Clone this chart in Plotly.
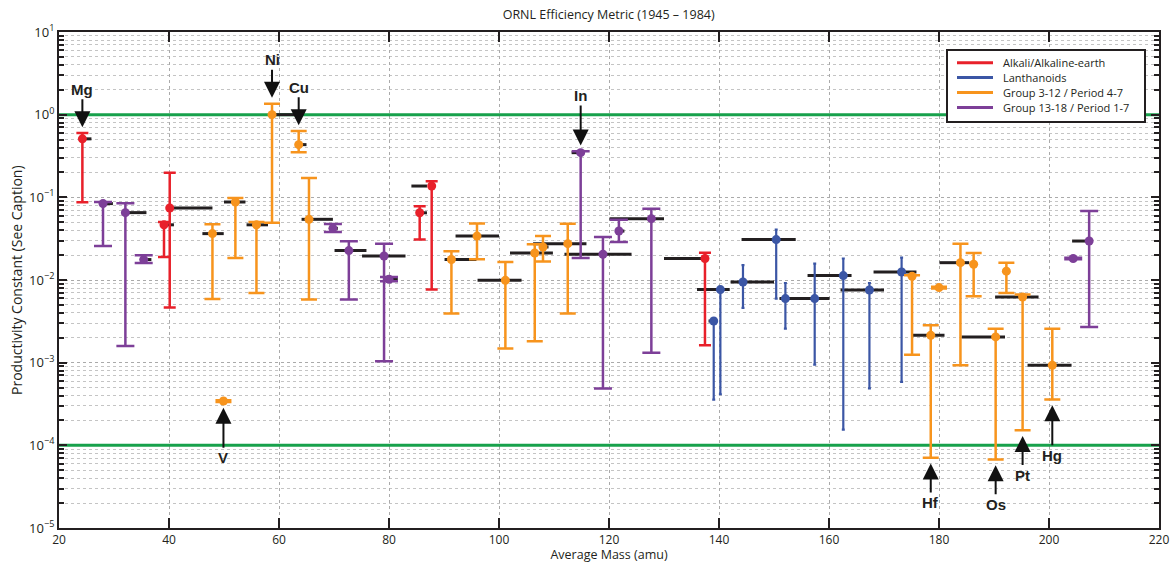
import math
import plotly.graph_objects as go

# ---------------- data ----------------
red_names = ["Mg", "K", "Ca", "Rb", "Sr", "Ba"]
red_x = [24.25, 39.09, 40.13, 85.58, 87.76, 137.45]
red_y = [0.51, 0.0465, 0.0742, 0.065, 0.137, 0.0182]
red_lo = [0.087, 0.019, 0.00464, 0.031, 0.00766, 0.00162]
red_hi = [0.60, 0.0503, 0.199, 0.0778, 0.157, 0.0214]

blue_names = ["La", "Ce", "Nd", "Sm", "Eu", "Gd", "Dy", "Er", "Yb"]
blue_x = [139.04, 140.25, 144.36, 150.4, 152.07, 157.4, 162.6, 167.35, 173.2]
blue_y = [0.00319, 0.00766, 0.00946, 0.0308, 0.00596, 0.00596, 0.0113, 0.00757, 0.0125]
blue_lo = [0.000358, 0.000415, 0.00459, 0.00596, 0.00258, 0.000948, 0.000155, 0.00049, 0.000585]
blue_hi = [0.0033, 0.0079, 0.0151, 0.0407, 0.0092, 0.0158, 0.0182, 0.0092, 0.0187]

orange_names = ["Ti", "V", "Cr", "Fe", "Ni", "Cu", "Zn", "Zr", "Mo", "Ru", "Pd", "Ag", "Cd",
                "Lu", "Hf", "Ta", "W", "Re", "Os", "Ir", "Pt", "Hg"]
orange_x = [47.9, 49.9, 52.07, 55.9, 58.73, 63.58, 65.45, 91.35, 96.0, 101.16, 106.5, 108.0, 112.5,
            175.1, 178.5, 180.0, 183.9, 186.3, 190.3, 192.25, 195.2, 200.6]
orange_y = [0.0364, 0.000344, 0.0878, 0.0465, 1.0, 0.434, 0.0542, 0.0177, 0.034, 0.0099, 0.0212, 0.0251, 0.0275,
            0.0111, 0.00214, 0.0081, 0.0162, 0.0155, 0.00205, 0.0128, 0.00623, 0.00093]
orange_lo = [0.00589, 0.000335, 0.01845, 0.00697, 0.0494, 0.35, 0.0058, 0.00392, 0.0178, 0.00148, 0.00182, 0.0167, 0.00392,
             0.00125, 7.1e-5, 0.0079, 0.00093, 0.00635, 6.73e-5, 0.00697, 0.000152, 0.000358]
orange_hi = [0.0472, 0.000352, 0.098, 0.0503, 1.36, 0.634, 0.171, 0.0222, 0.0481, 0.0165, 0.027, 0.034, 0.048,
             0.0114, 0.00283, 0.0083, 0.0275, 0.0212, 0.00258, 0.0162, 0.00666, 0.00258]

purple_names = ["Si", "S", "Cl", "Ga", "Ge", "Se", "Br", "In", "Sn", "Sb", "Te", "Tl", "Pb"]
purple_x = [28.0, 32.07, 35.4, 69.8, 72.7, 79.1, 80.0, 114.85, 118.9, 121.8, 127.7, 204.4, 207.3]
purple_y = [0.084, 0.0653, 0.01766, 0.0422, 0.0227, 0.0195, 0.0102, 0.347, 0.0205, 0.0391, 0.0552, 0.0182, 0.0296]
purple_lo = [0.0258, 0.00159, 0.0161, 0.038, 0.0058, 0.00104, 0.00965, 0.01845, 0.000486, 0.0288, 0.00132, 0.0178, 0.0027]
purple_hi = [0.088, 0.0846, 0.0199, 0.0475, 0.0294, 0.0275, 0.01087, 0.36, 0.0331, 0.0537, 0.073, 0.0186, 0.0683]

# black horizontal segments (start mass, end mass, value)
dash_x0 = [24.25, 28.0, 32.07, 35.4, 39.1, 40.1, 46.07, 50.0, 54.1, 58.7, 63.58, 64.1, 69.8, 70.1, 75.1, 80.0,
           85.0, 84.07, 90.1, 92.1, 96.1, 102.0, 108.0, 106.2, 113.2, 111.9, 121.8, 120.1, 130.0, 138.1,
           136.0, 142.1, 144.1, 151.0, 156.1, 162.1, 168.1, 175.1, 180.1, 185.6, 184.1, 191.6, 190.2,
           196.1, 204.2]
dash_x1 = [25.9, 29.8, 35.9, 36.8, 40.9, 47.9, 49.95, 53.9, 58.0, 63.8, 65.0, 69.8, 70.7, 75.9, 83.0, 81.6,
           86.9, 86.9, 95.9, 100.0, 104.1, 109.8, 109.0, 115.9, 114.85, 124.1, 122.8, 130.0, 137.1, 139.04,
           141.95, 150.0, 153.95, 160.1, 164.1, 170.0, 175.9, 181.0, 185.5, 186.3, 192.0, 192.25, 198.1,
           204.1, 207.3]
dash_y = [0.51, 0.084, 0.0653, 0.01766, 0.0465, 0.0742, 0.0364, 0.0878, 0.0465, 1.0, 0.434, 0.0542, 0.0422,
          0.0227, 0.0195, 0.0102, 0.065, 0.137, 0.0177, 0.034, 0.0099, 0.0212, 0.0251, 0.0275, 0.347, 0.0205,
          0.0391, 0.0552, 0.0182, 0.00319, 0.00766, 0.00946, 0.0308, 0.00596, 0.0113, 0.00757, 0.0125,
          0.00214, 0.0162, 0.0155, 0.00205, 0.0128, 0.00623, 0.00093, 0.0296]

thresholds = [1.0, 1e-4]

series_labels = ["Alkali/Alkaline-earth", "Lanthanoids", "Group 3-12 / Period 4-7", "Group 13-18 / Period 1-7"]
series_colors = ["#e8202a", "#3b56a5", "#f7941d", "#7d3f98"]

arrow_down = ["Mg", "Ni", "Cu", "In"]
arrow_up = ["V", "Hf", "Os", "Pt", "Hg"]

# ---------------- figure ----------------
W, H = 1175, 563
ML, MR, MT, MB = 59, 16, 32, 35
PW, PH = W - ML - MR, H - MT - MB


def px_to_paper(px, py):
    return (px - ML) / PW, (H - MB - py) / PH


fig = go.Figure()

for t in thresholds:
    fig.add_trace(go.Scatter(x=[20, 220], y=[t, t], mode="lines",
                             line=dict(color="#17a14b", width=3),
                             showlegend=False, hoverinfo="skip"))

dx, dy = [], []
for a, b, v in zip(dash_x0, dash_x1, dash_y):
    dx += [a, b, None]
    dy += [v, v, None]
fig.add_trace(go.Scatter(x=dx, y=dy, mode="lines", line=dict(color="#231f20", width=3),
                         showlegend=False, hoverinfo="skip"))

groups = [
    (red_x, red_y, red_lo, red_hi, 6, 2.5),
    (blue_x, blue_y, blue_lo, blue_hi, 1.5, 2.2),
    (orange_x, orange_y, orange_lo, orange_hi, 8, 2.5),
    (purple_x, purple_y, purple_lo, purple_hi, 9, 2.5),
]
for (gx, gy, glo, ghi, capw, th), col, lab in zip(groups, series_colors, series_labels):
    fig.add_trace(go.Scatter(
        x=gx, y=gy, mode="markers", name=lab,
        marker=dict(color=col, size=9),
        error_y=dict(type="data", symmetric=False,
                     array=[h - v for h, v in zip(ghi, gy)],
                     arrayminus=[v - l for v, l in zip(gy, glo)],
                     color=col, thickness=th, width=capw),
        showlegend=False))

lookup = {}
for names, xs, his, los in [(red_names, red_x, red_hi, red_lo), (blue_names, blue_x, blue_hi, blue_lo),
                            (orange_names, orange_x, orange_hi, orange_lo),
                            (purple_names, purple_x, purple_hi, purple_lo)]:
    for n, xv, h, l in zip(names, xs, his, los):
        lookup[n] = (xv, h, l)

label_font = dict(family="Liberation Sans, Arial", size=15, color="#231f20")
annots = []
for n in arrow_down:
    xv, h, l = lookup[n]
    annots.append(dict(x=xv, y=math.log10(h) + 0.07, xref="x", yref="y",
                       text="<b>%s</b>" % n, showarrow=True, arrowhead=2, arrowsize=1.6,
                       arrowwidth=2, arrowcolor="#111111", ax=0, ay=-38 if n != "In" else -50,
                       font=label_font))
for n in arrow_up:
    xv, h, l = lookup[n]
    annots.append(dict(x=xv, y=math.log10(l) - 0.07, xref="x", yref="y",
                       text="<b>%s</b>" % n, showarrow=True, arrowhead=2, arrowsize=1.6,
                       arrowwidth=2, arrowcolor="#111111", ax=0,
                       ay=50 if n in ("V", "Hg") else 39,
                       font=label_font))

annots.append(dict(text="Productivity Constant (See Caption)", xref="paper", yref="paper",
                   x=px_to_paper(16, 0)[0], y=0.5, textangle=-90, showarrow=False, xanchor="center",
                   font=dict(family="Open Sans", size=14, color="#231f20")))

# manual legend (box, line samples, labels)
shapes = []
bx0, by0 = px_to_paper(947, 50)
bx1, by1 = px_to_paper(1145, 122)
shapes.append(dict(type="rect", xref="paper", yref="paper", x0=bx0, y0=by1, x1=bx1, y1=by0,
                   line=dict(color="#231f20", width=2), fillcolor="white", layer="above"))
for i, (lab, col) in enumerate(zip(series_labels, series_colors)):
    ry = 62.7 + i * 14.9
    lx0, ly = px_to_paper(957, ry)
    lx1, _ = px_to_paper(993, ry)
    shapes.append(dict(type="line", xref="paper", yref="paper", x0=lx0, x1=lx1, y0=ly, y1=ly,
                       line=dict(color=col, width=3), layer="above"))
    tx, _ = px_to_paper(1001, ry)
    annots.append(dict(text=lab, xref="paper", yref="paper", x=tx, y=ly, xanchor="left",
                       yanchor="middle", showarrow=False,
                       font=dict(family="Open Sans", size=11, color="#231f20")))

decades = list(range(-5, 2))
major_vals = [10.0 ** d for d in decades]
major_text = ["10<sup>%s</sup>" % (str(d) if d >= 0 else "\u2212" + str(-d)) for d in decades]
minor_vals = [k * 10.0 ** d for d in decades[:-1] for k in range(2, 10)]

fig.update_layout(
    width=W, height=H,
    margin=dict(l=ML, r=MR, t=MT, b=MB),
    plot_bgcolor="white", paper_bgcolor="white",
    title=dict(text="ORNL Efficiency Metric (1945 \u2013 1984)", x=0.518, xanchor="center",
               y=1 - 15 / H, yanchor="middle",
               font=dict(family="Open Sans", size=12.5, color="#231f20")),
    font=dict(family="Open Sans", size=13, color="#231f20"),
    annotations=annots,
    shapes=shapes,
    showlegend=False,
)

fig.update_xaxes(range=[20, 220], tick0=20, dtick=20, ticks="inside", ticklen=10,
                 tickwidth=1.5, tickcolor="#231f20", showline=True, linecolor="#231f20",
                 linewidth=2, mirror="ticks", showgrid=True, gridcolor="#aaaaaa",
                 griddash="dot", gridwidth=1, zeroline=False, automargin=False,
                 title=dict(text="Average Mass (amu)", standoff=2,
                            font=dict(family="Open Sans", size=12.5, color="#231f20")),
                 tickfont=dict(family="Open Sans", size=12, color="#231f20"))
fig.update_yaxes(type="log", range=[-5, 1], tickmode="array", tickvals=major_vals,
                 ticktext=major_text, ticks="inside", ticklen=8, tickwidth=1.5,
                 tickcolor="#231f20", showline=True, linecolor="#231f20", linewidth=2,
                 mirror="ticks", showgrid=True, gridcolor="#aaaaaa", griddash="dot",
                 zeroline=False, automargin=False,
                 minor=dict(tickvals=minor_vals, ticks="inside", ticklen=5, tickcolor="#231f20",
                            showgrid=True, gridcolor="#c4c4c4", griddash="dot"),
                 tickfont=dict(family="Open Sans", size=13, color="#231f20"))

fig.write_html("out.html")
